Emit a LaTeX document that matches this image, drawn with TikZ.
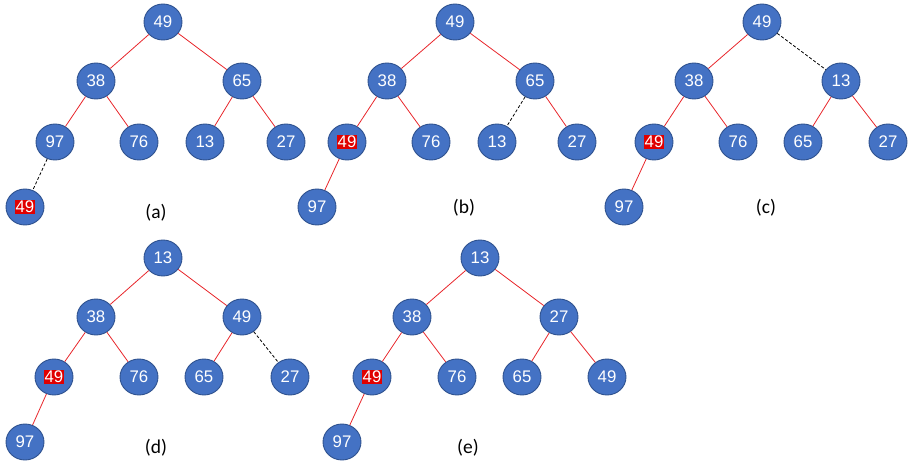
\documentclass[tikz,border=0pt]{standalone}
\usepackage{fontspec}
\setmainfont{Liberation Sans}
\newfontfamily\capfont{Carlito}
\usetikzlibrary{shapes.geometric}
\definecolor{nodefill}{HTML}{4472C4}
\definecolor{nodeline}{HTML}{2F528F}
\definecolor{edgered}{HTML}{E8262B}
\definecolor{hlred}{HTML}{E00000}
\newcommand{\hl}[1]{{\setlength\fboxsep{0.6pt}\colorbox{hlred}{#1}}}
\tikzset{
  heapnode/.style={ellipse, draw=nodeline, line width=0.9pt, fill=nodefill,
    minimum width=38pt, minimum height=36pt, inner sep=0pt,
    text=white, font=\fontsize{16.8}{18}\selectfont},
  redge/.style={draw=edgered, line width=0.8pt},
  dedge/.style={draw=black, line width=0.8pt, dash pattern=on 3pt off 2pt},
  caption/.style={font=\capfont\fontsize{19.5}{21}\selectfont, text=black}
}
\begin{document}
\begin{tikzpicture}[x=1pt,y=-1pt]
\useasboundingbox (0,0) rectangle (913,465);
% (a)
\node[heapnode] (a1) at (163,22) {49};
\node[heapnode] (a2) at (96,81) {38};
\node[heapnode] (a3) at (242,81) {65};
\node[heapnode] (a4) at (55,142) {97};
\node[heapnode] (a5) at (139,142) {76};
\node[heapnode] (a6) at (205,142) {13};
\node[heapnode] (a7) at (286,142) {27};
\node[heapnode] (a8) at (25,207) {\hl{49}};
\node[caption] (la) at (156,213) {(a)};
\draw[redge] (a1) -- (a2);
\draw[redge] (a1) -- (a3);
\draw[redge] (a2) -- (a4);
\draw[redge] (a2) -- (a5);
\draw[redge] (a3) -- (a6);
\draw[redge] (a3) -- (a7);
\draw[dedge] (a4) -- (a8);
% (b)
\node[heapnode] (b1) at (455,22) {49};
\node[heapnode] (b2) at (387,81) {38};
\node[heapnode] (b3) at (535,81) {65};
\node[heapnode] (b4) at (347,142) {\hl{49}};
\node[heapnode] (b5) at (431,142) {76};
\node[heapnode] (b6) at (497,142) {13};
\node[heapnode] (b7) at (577,142) {27};
\node[heapnode] (b8) at (317,207) {97};
\node[caption] (lb) at (464,208) {(b)};
\draw[redge] (b1) -- (b2);
\draw[redge] (b1) -- (b3);
\draw[redge] (b2) -- (b4);
\draw[redge] (b2) -- (b5);
\draw[dedge] (b3) -- (b6);
\draw[redge] (b3) -- (b7);
\draw[redge] (b4) -- (b8);
% (c)
\node[heapnode] (c1) at (762,22) {49};
\node[heapnode] (c2) at (694,81) {38};
\node[heapnode] (c3) at (841,81) {13};
\node[heapnode] (c4) at (654,142) {\hl{49}};
\node[heapnode] (c5) at (738,142) {76};
\node[heapnode] (c6) at (803,142) {65};
\node[heapnode] (c7) at (888,142) {27};
\node[heapnode] (c8) at (624,207) {97};
\node[caption] (lc) at (766,208) {(c)};
\draw[redge] (c1) -- (c2);
\draw[dedge] (c1) -- (c3);
\draw[redge] (c2) -- (c4);
\draw[redge] (c2) -- (c5);
\draw[redge] (c3) -- (c6);
\draw[redge] (c3) -- (c7);
\draw[redge] (c4) -- (c8);
% (d)
\node[heapnode] (d1) at (163,258) {13};
\node[heapnode] (d2) at (96,317) {38};
\node[heapnode] (d3) at (242,317) {49};
\node[heapnode] (d4) at (54,377) {\hl{49}};
\node[heapnode] (d5) at (139,377) {76};
\node[heapnode] (d6) at (204,377) {65};
\node[heapnode] (d7) at (290,377) {27};
\node[heapnode] (d8) at (25,442) {97};
\node[caption] (ld) at (156,448) {(d)};
\draw[redge] (d1) -- (d2);
\draw[redge] (d1) -- (d3);
\draw[redge] (d2) -- (d4);
\draw[redge] (d2) -- (d5);
\draw[redge] (d3) -- (d6);
\draw[dedge] (d3) -- (d7);
\draw[redge] (d4) -- (d8);
% (e)
\node[heapnode] (e1) at (480,258) {13};
\node[heapnode] (e2) at (412,317) {38};
\node[heapnode] (e3) at (559,317) {27};
\node[heapnode] (e4) at (372,377) {\hl{49}};
\node[heapnode] (e5) at (457,377) {76};
\node[heapnode] (e6) at (522,377) {65};
\node[heapnode] (e7) at (607,377) {49};
\node[heapnode] (e8) at (342,442) {97};
\node[caption] (le) at (468,448) {(e)};
\draw[redge] (e1) -- (e2);
\draw[redge] (e1) -- (e3);
\draw[redge] (e2) -- (e4);
\draw[redge] (e2) -- (e5);
\draw[redge] (e3) -- (e6);
\draw[redge] (e3) -- (e7);
\draw[redge] (e4) -- (e8);
\end{tikzpicture}
\end{document}
